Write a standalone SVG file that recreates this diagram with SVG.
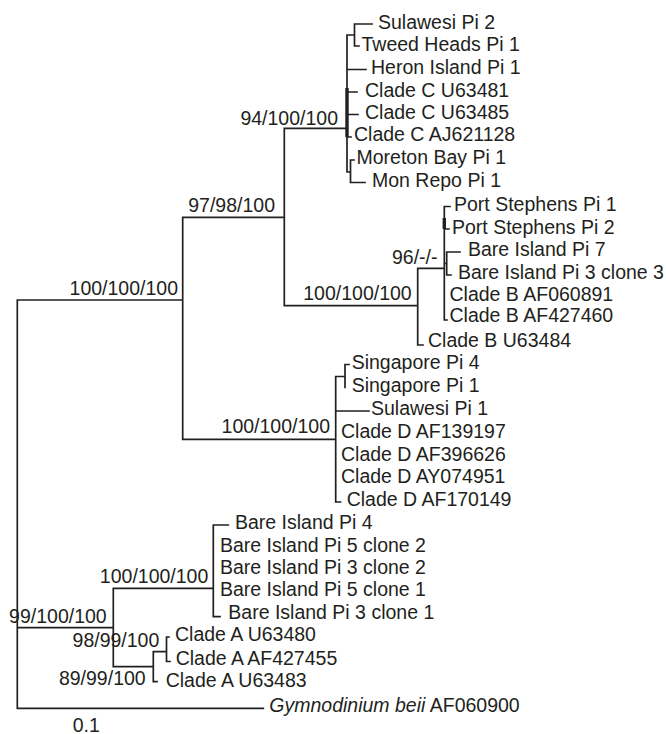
<svg xmlns="http://www.w3.org/2000/svg" width="666" height="734" viewBox="0 0 666 734">
<style>
text{font-family:"Liberation Sans",Arial,Helvetica,sans-serif;font-size:19.5px;fill:#231f20}
.sup{text-anchor:end}
.tree{fill:none;stroke:#231f20;stroke-width:1.7;stroke-linecap:square}
.thick{fill:none;stroke:#231f20;stroke-width:3.4}
</style>
<rect width="666" height="734" fill="#fff"/>
<g id="connectors">
<path class="tree" d="M17.3,300V708.3M17.3,300H182.7M17.3,708.3H263.3M182.7,217.3V439.3M182.7,217.3H284.3M182.7,439.3H335.7M284.3,128.3V305.7M284.3,128.3H347M284.3,305.7H417.7
M347,35V172M347,35H354.5M354.5,24V46M354.5,24H372M354.5,46H359M347,69.5H366M347,92H357M347,114.5H358M347,137H351M347,172H350.5M350.5,160V182.5M350.5,160H354M350.5,182.5H365
M417.7,268.3V345M417.7,345H423M417.7,268.3H444.3M444.3,206.5V320M444.3,206.5H450M444.3,229H449M444.3,263.5H446.7M446.7,252V275M446.7,252H460M446.7,275H451M444.3,320H447
M335.7,376.5V502M335.7,502H340.5M335.7,376.5H345M345,364.5V387.5M345,364.5H349M335.7,411H369
M113.3,588.3V666.7M17.3,627.7H113.3M113.3,588.3H213.3M213.3,525V616.7M213.3,525H228.3M213.3,616.7H220M113.3,666.7H153.3M153.3,651.7V681.7M153.3,651.7H166.5M153.3,681.7H157M166.5,637V661.5M166.5,637H169M166.5,661.5H170"/>
<path class="thick" d="M347,88V137M444.3,218V229"/>
</g>
<g id="support">
<text class="sup" x="338" y="124.5">94/100/100</text>
<text class="sup" x="275" y="211.7">97/98/100</text>
<text class="sup" x="437.5" y="264">96/-/-</text>
<text class="sup" x="411.7" y="300">100/100/100</text>
<text class="sup" x="178" y="295">100/100/100</text>
<text class="sup" x="330" y="433.3">100/100/100</text>
<text class="sup" x="208.3" y="583.3">100/100/100</text>
<text class="sup" x="106.7" y="623.3">99/100/100</text>
<text class="sup" x="159.3" y="646.7">98/99/100</text>
<text class="sup" x="145.7" y="685">89/99/100</text>
</g>
<g id="tip-sulawesi-pi2"><text x="378" y="28.5">Sulawesi Pi 2</text></g>
<g id="tip-tweed-heads-pi1"><text x="361.5" y="50.5">Tweed Heads Pi 1</text></g>
<g id="tip-heron-island-pi1"><text x="371" y="74">Heron Island Pi 1</text></g>
<g id="tip-cladec-u63481"><text x="365" y="96.5">Clade C U63481</text></g>
<g id="tip-cladec-u63485"><text x="365" y="119">Clade C U63485</text></g>
<g id="tip-cladec-aj621128"><text x="354" y="141">Clade C AJ621128</text></g>
<g id="tip-moreton-bay-pi1"><text x="356.5" y="164">Moreton Bay Pi 1</text></g>
<g id="tip-mon-repo-pi1"><text x="372" y="186.5">Mon Repo Pi 1</text></g>
<g id="tip-port-stephens-pi1"><text x="454" y="210.5">Port Stephens Pi 1</text></g>
<g id="tip-port-stephens-pi2"><text x="452" y="233.5">Port Stephens Pi 2</text></g>
<g id="tip-bare-island-pi7"><text x="468" y="256">Bare Island Pi 7</text></g>
<g id="tip-bare-island-pi3-clone3"><text x="458" y="278.5">Bare Island Pi 3 clone 3</text></g>
<g id="tip-cladeb-af060891"><text x="449.5" y="300.5">Clade B AF060891</text></g>
<g id="tip-cladeb-af427460"><text x="449.5" y="322">Clade B AF427460</text></g>
<g id="tip-cladeb-u63484"><text x="428" y="347">Clade B U63484</text></g>
<g id="tip-singapore-pi4"><text x="351.7" y="369">Singapore Pi 4</text></g>
<g id="tip-singapore-pi1"><text x="351.7" y="392">Singapore Pi 1</text></g>
<g id="tip-sulawesi-pi1"><text x="371" y="415">Sulawesi Pi 1</text></g>
<g id="tip-claded-af139197"><text x="341" y="437.5">Clade D AF139197</text></g>
<g id="tip-claded-af396626"><text x="341" y="460.5">Clade D AF396626</text></g>
<g id="tip-claded-ay074951"><text x="341" y="483">Clade D AY074951</text></g>
<g id="tip-claded-af170149"><text x="346.7" y="506">Clade D AF170149</text></g>
<g id="tip-bare-island-pi4"><text x="235" y="528.5">Bare Island Pi 4</text></g>
<g id="tip-bare-island-pi5-clone2"><text x="220" y="551.5">Bare Island Pi 5 clone 2</text></g>
<g id="tip-bare-island-pi3-clone2"><text x="220" y="573.5">Bare Island Pi 3 clone 2</text></g>
<g id="tip-bare-island-pi5-clone1"><text x="220" y="596">Bare Island Pi 5 clone 1</text></g>
<g id="tip-bare-island-pi3-clone1"><text x="228.3" y="618.5">Bare Island Pi 3 clone 1</text></g>
<g id="tip-cladea-u63480"><text x="175" y="640.5">Clade A U63480</text></g>
<g id="tip-cladea-af427455"><text x="175.7" y="665">Clade A AF427455</text></g>
<g id="tip-cladea-u63483"><text x="165.7" y="686.7">Clade A U63483</text></g>
<g id="tip-gymnodinium"><text x="269.3" y="711.7"><tspan font-style="italic">Gymnodinium beii</tspan> AF060900</text></g>
<g id="scale"><text x="72.7" y="731.5">0.1</text></g>
</svg>
